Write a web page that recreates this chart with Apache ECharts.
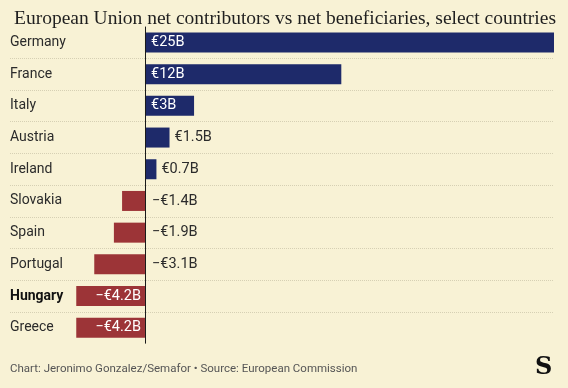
<!DOCTYPE html>
<html>
<head>
<meta charset="utf-8">
<script src="https://cdn.jsdelivr.net/npm/echarts@6/dist/echarts.min.js"></script>
<style>
html,body{margin:0;padding:0;background:#f8f2d5;}
#c{width:568px;height:388px;}
</style>
</head>
<body>
<div id="c"></div>
<script>
const categories = ['Germany','France','Italy','Austria','Ireland','Slovakia','Spain','Portugal','Hungary','Greece'];
const values = [25, 12, 3, 1.5, 0.7, -1.4, -1.9, -3.1, -4.2, -4.2];
const valueLabels = ['€25B','€12B','€3B','€1.5B','€0.7B','−€1.4B','−€1.9B','−€3.1B','−€4.2B','−€4.2B'];
const boldCategory = 'Hungary';

const NAVY = '#1e2a6a';
const RED = '#9c3437';
const TEXT = '#2b2b2b';
const SANS = 'Roboto';

function labelFor(v, i) {
  const base = { show: true, formatter: valueLabels[i], fontFamily: SANS, fontSize: 14.5 };
  if (v >= 3) return Object.assign(base, { position: 'insideLeft', distance: 6, color: '#ffffff' });
  if (v > 0) return Object.assign(base, { position: 'right', distance: 5, color: TEXT });
  if (v > -4) return Object.assign(base, { position: 'right', distance: 7, color: TEXT });
  return Object.assign(base, { position: 'insideRight', distance: 4, color: '#ffffff' });
}

const data = values.map((v, i) => ({
  value: v,
  itemStyle: { color: v >= 0 ? NAVY : RED },
  label: labelFor(v, i)
}));

const chart = echarts.init(document.getElementById('c'), null, { renderer: 'canvas' });
chart.setOption({
  backgroundColor: '#f8f2d5',
  animation: false,
  title: {
    text: 'European Union net contributors vs net beneficiaries, select countries',
    left: 9, top: 4,
    textStyle: { fontFamily: 'Liberation Serif', fontWeight: 'normal', fontSize: 19.5, color: '#1f1f1f' }
  },
  grid: { left: 10, right: 14, top: 26.6, height: 317, containLabel: false },
  xAxis: {
    type: 'value', min: -8.25, max: 25,
    show: false
  },
  yAxis: {
    type: 'category', data: categories, inverse: true,
    axisLine: { show: false }, axisTick: { show: false },
    axisLabel: {
      inside: true, margin: 0, align: 'left',
      fontFamily: SANS, fontSize: 14, color: TEXT,
      formatter: function (v) { return v === boldCategory ? '{b|' + v + '}' : v; },
      rich: { b: { fontFamily: SANS, fontSize: 14, fontWeight: 'bold', color: '#111' } }
    },
    splitLine: { show: true, showMinLine: false, showMaxLine: false, lineStyle: { color: '#d6d0b4', type: [1, 1], width: 1 } }
  },
  series: [{
    type: 'bar',
    data: data,
    barWidth: 20,
    markLine: {
      silent: true, symbol: 'none', label: { show: false },
      lineStyle: { color: '#1a1a1a', type: 'solid', width: 1 },
      data: [{ xAxis: 0 }]
    }
  }],
  graphic: [
    { type: 'text', left: 10, top: 363, style: { text: 'Chart: Jeronimo Gonzalez/Semafor • Source: European Commission', fontFamily: SANS, fontSize: 11.5, fill: '#555' } },
    { type: 'text', left: 535, top: 356, style: { text: 'S', fontFamily: 'DejaVu Serif', fontWeight: 'bold', fontSize: 24, fill: '#111' } }
  ]
});
</script>
</body>
</html>
